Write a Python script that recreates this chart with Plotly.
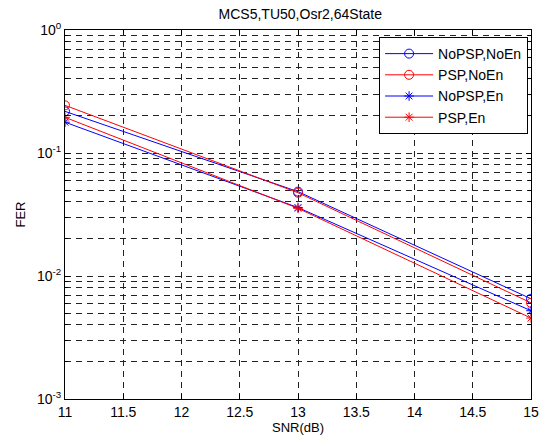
import plotly.graph_objects as go

snr = [11, 13, 15]
nopsp_noen = [0.218, 0.0485, 0.00653]
psp_noen = [0.244, 0.0475, 0.00605]
nopsp_en = [0.178, 0.0360, 0.00522]
psp_en = [0.195, 0.0355, 0.00455]

series = [
    ("NoPSP,NoEn", nopsp_noen, "#0000FF", "circle-open", 9),
    ("PSP,NoEn", psp_noen, "#FF0000", "circle-open", 9),
    ("NoPSP,En", nopsp_en, "#0000FF", "asterisk-open", 8),
    ("PSP,En", psp_en, "#FF0000", "asterisk-open", 8),
]

x_ticks = [11, 11.5, 12, 12.5, 13, 13.5, 14, 14.5, 15]
x_labels = ["11", "11.5", "12", "12.5", "13", "13.5", "14", "14.5", "15"]
y_ticks = [1e-3, 1e-2, 1e-1, 1]
y_labels = ["10<sup>-3</sup>", "10<sup>-2</sup>", "10<sup>-1</sup>", "10<sup>0</sup>"]
y_minor = [m * d for d in (1e-3, 1e-2, 1e-1) for m in range(2, 10)]

fig = go.Figure()
for name, vals, color, sym, size in series:
    fig.add_trace(go.Scatter(
        x=snr, y=vals, name=name, mode="lines+markers",
        line=dict(color=color, width=1),
        marker=dict(symbol=sym, size=size, color=color, line=dict(color=color, width=1)),
    ))

grid = dict(showgrid=True, gridcolor="#222222", gridwidth=1, griddash="6px,5px")

fig.update_layout(
    width=551, height=445,
    margin=dict(l=65, r=14, t=30, b=43),
    paper_bgcolor="white", plot_bgcolor="white",
    font=dict(family="Liberation Sans, Arial, sans-serif", size=14, color="black"),
    title=dict(text="MCS5,TU50,Osr2,64State", x=0.545, xanchor="center", y=0.968, yanchor="middle",
               font=dict(size=14)),
    showlegend=True,
    legend=dict(x=0.674, y=0.981, xanchor="left", yanchor="top",
                bordercolor="black", borderwidth=1, bgcolor="white",
                font=dict(size=14), tracegroupgap=0, itemwidth=48),
    xaxis=dict(
        range=[11, 15], tickvals=x_ticks, ticktext=x_labels,
        title=dict(text="SNR(dB)", standoff=4, font=dict(size=13)),
        showline=True, linecolor="black", linewidth=1, mirror="ticks",
        ticks="inside", ticklen=5, tickcolor="black",
        zeroline=False, **grid,
    ),
    yaxis=dict(
        type="log", range=[-3, 0], tickvals=y_ticks, ticktext=y_labels,
        title=dict(text="FER", standoff=8, font=dict(size=13)),
        showline=True, linecolor="black", linewidth=1, mirror="ticks",
        ticks="inside", ticklen=5, tickcolor="black",
        zeroline=False, **grid,
        minor=dict(tickmode="array", tickvals=y_minor,
                   ticks="inside", ticklen=3, tickcolor="black",
                   showgrid=True, gridcolor="#222222", gridwidth=1, griddash="6px,5px"),
    ),
)

fig.write_html("out.html")
